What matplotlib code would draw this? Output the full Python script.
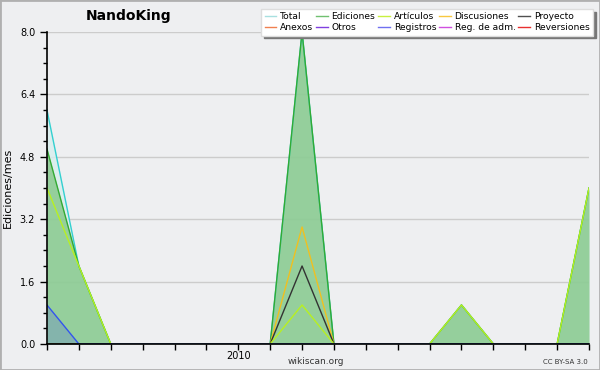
import matplotlib.pyplot as plt
import numpy as np

# monthly edits, July 2009 .. December 2010
months = list(range(18))
total = [6, 2, 0, 0, 0, 0, 0, 0, 8, 0, 0, 0, 0, 1, 0, 0, 0, 4]
ediciones = [5, 2, 0, 0, 0, 0, 0, 0, 8, 0, 0, 0, 0, 1, 0, 0, 0, 4]
articulos = [4, 2, 0, 0, 0, 0, 0, 0, 1, 0, 0, 0, 0, 1, 0, 0, 0, 4]
discusiones = [0, 0, 0, 0, 0, 0, 0, 0, 3, 0, 0, 0, 0, 0, 0, 0, 0, 0]
proyecto = [0, 0, 0, 0, 0, 0, 0, 0, 2, 0, 0, 0, 0, 0, 0, 0, 0, 0]
registros = [1, 0, 0, 0, 0, 0, 0, 0, 0, 0, 0, 0, 0, 0, 0, 0, 0, 0]
year_tick = 6
year_label = "2010"

legend_names = ["Total", "Anexos", "Ediciones", "Otros", "Artículos", "Registros",
                "Discusiones", "Reg. de adm.", "Proyecto", "Reversiones"]
legend_colors = ["#a8e0e0", "#f08050", "#70c070", "#8040e0", "#c8f040", "#7070f0",
                 "#f8c840", "#d050e0", "#505050", "#e83030"]

bg = "#eeeff1"
fig = plt.figure(figsize=(6, 3.7), dpi=100, facecolor=bg)
fig.patches.append(plt.Rectangle((0, 0), 1, 1, transform=fig.transFigure,
                                 fill=False, edgecolor="#b0b0b0", lw=2))
ax = fig.add_axes([0.0783, 0.0703, 0.9034, 0.8432], facecolor=bg)

x = np.array(months)
ax.fill_between(x, total, color="#d8eeee", alpha=0.8, lw=0)
ax.fill_between(x, ediciones, color="#66bb66", alpha=0.6, lw=0)
ax.fill_between(x, registros, color="#5566dd", alpha=0.25, lw=0)
ax.plot(x, total, color="#33d0d0", lw=1)
ax.plot(x, ediciones, color="#33aa33", lw=1)
ax.plot(x, discusiones, color="#f0c020", lw=1)
ax.plot(x, proyecto, color="#333333", lw=1)
ax.plot(x, articulos, color="#b8f020", lw=1)
ax.plot(x, registros, color="#3355ee", lw=1)

ax.set_xlim(0, 17)
ax.set_ylim(0, 8)
ax.set_yticks(np.arange(0, 8.01, 1.6))
ax.set_yticks(np.arange(0, 8.01, 0.4), minor=True)
ax.set_yticklabels(["%.1f" % v for v in np.arange(0, 8.01, 1.6)], fontsize=7)
ax.set_xticks(months)
ax.set_xticklabels([year_label if m == year_tick else "" for m in months], fontsize=7)
ax.tick_params(axis="y", which="major", length=5, width=1)
ax.tick_params(axis="y", which="minor", length=3, width=1)
ax.tick_params(axis="x", length=4, width=1, pad=1)
ax.grid(axis="y", color="#cccccc", lw=1)
ax.set_axisbelow(True)
for s in ["top", "right"]:
    ax.spines[s].set_visible(False)
for s in ["left", "bottom"]:
    ax.spines[s].set_linewidth(1.2)
    ax.spines[s].set_zorder(5)
ax.set_ylabel("Ediciones/mes", fontsize=8, labelpad=5)

fig.text(0.215, 0.958, "NandoKing", fontsize=10, fontweight="bold", ha="center", va="center")
fig.text(0.527, 0.022, "wikiscan.org", fontsize=6.5, color="#333333", ha="center", va="center")
fig.text(0.98, 0.022, "CC BY-SA 3.0", fontsize=5, color="#333333", ha="right", va="center")

handles = [plt.Line2D([], [], color=c, lw=1) for c in legend_colors]
leg = fig.legend(handles, legend_names, ncol=5, loc="upper right",
                 bbox_to_anchor=(0.988, 0.975), fontsize=6.6, frameon=True,
                 fancybox=False, shadow={"color": "#777777", "alpha": 1},
                 handlelength=1.3, handletextpad=0.4, columnspacing=0.3,
                 labelspacing=0.2, borderpad=0.35, borderaxespad=0)
leg.get_frame().set_edgecolor("#dddddd")
leg.get_frame().set_facecolor("white")

fig.savefig("out.png", dpi=100, facecolor=bg)
